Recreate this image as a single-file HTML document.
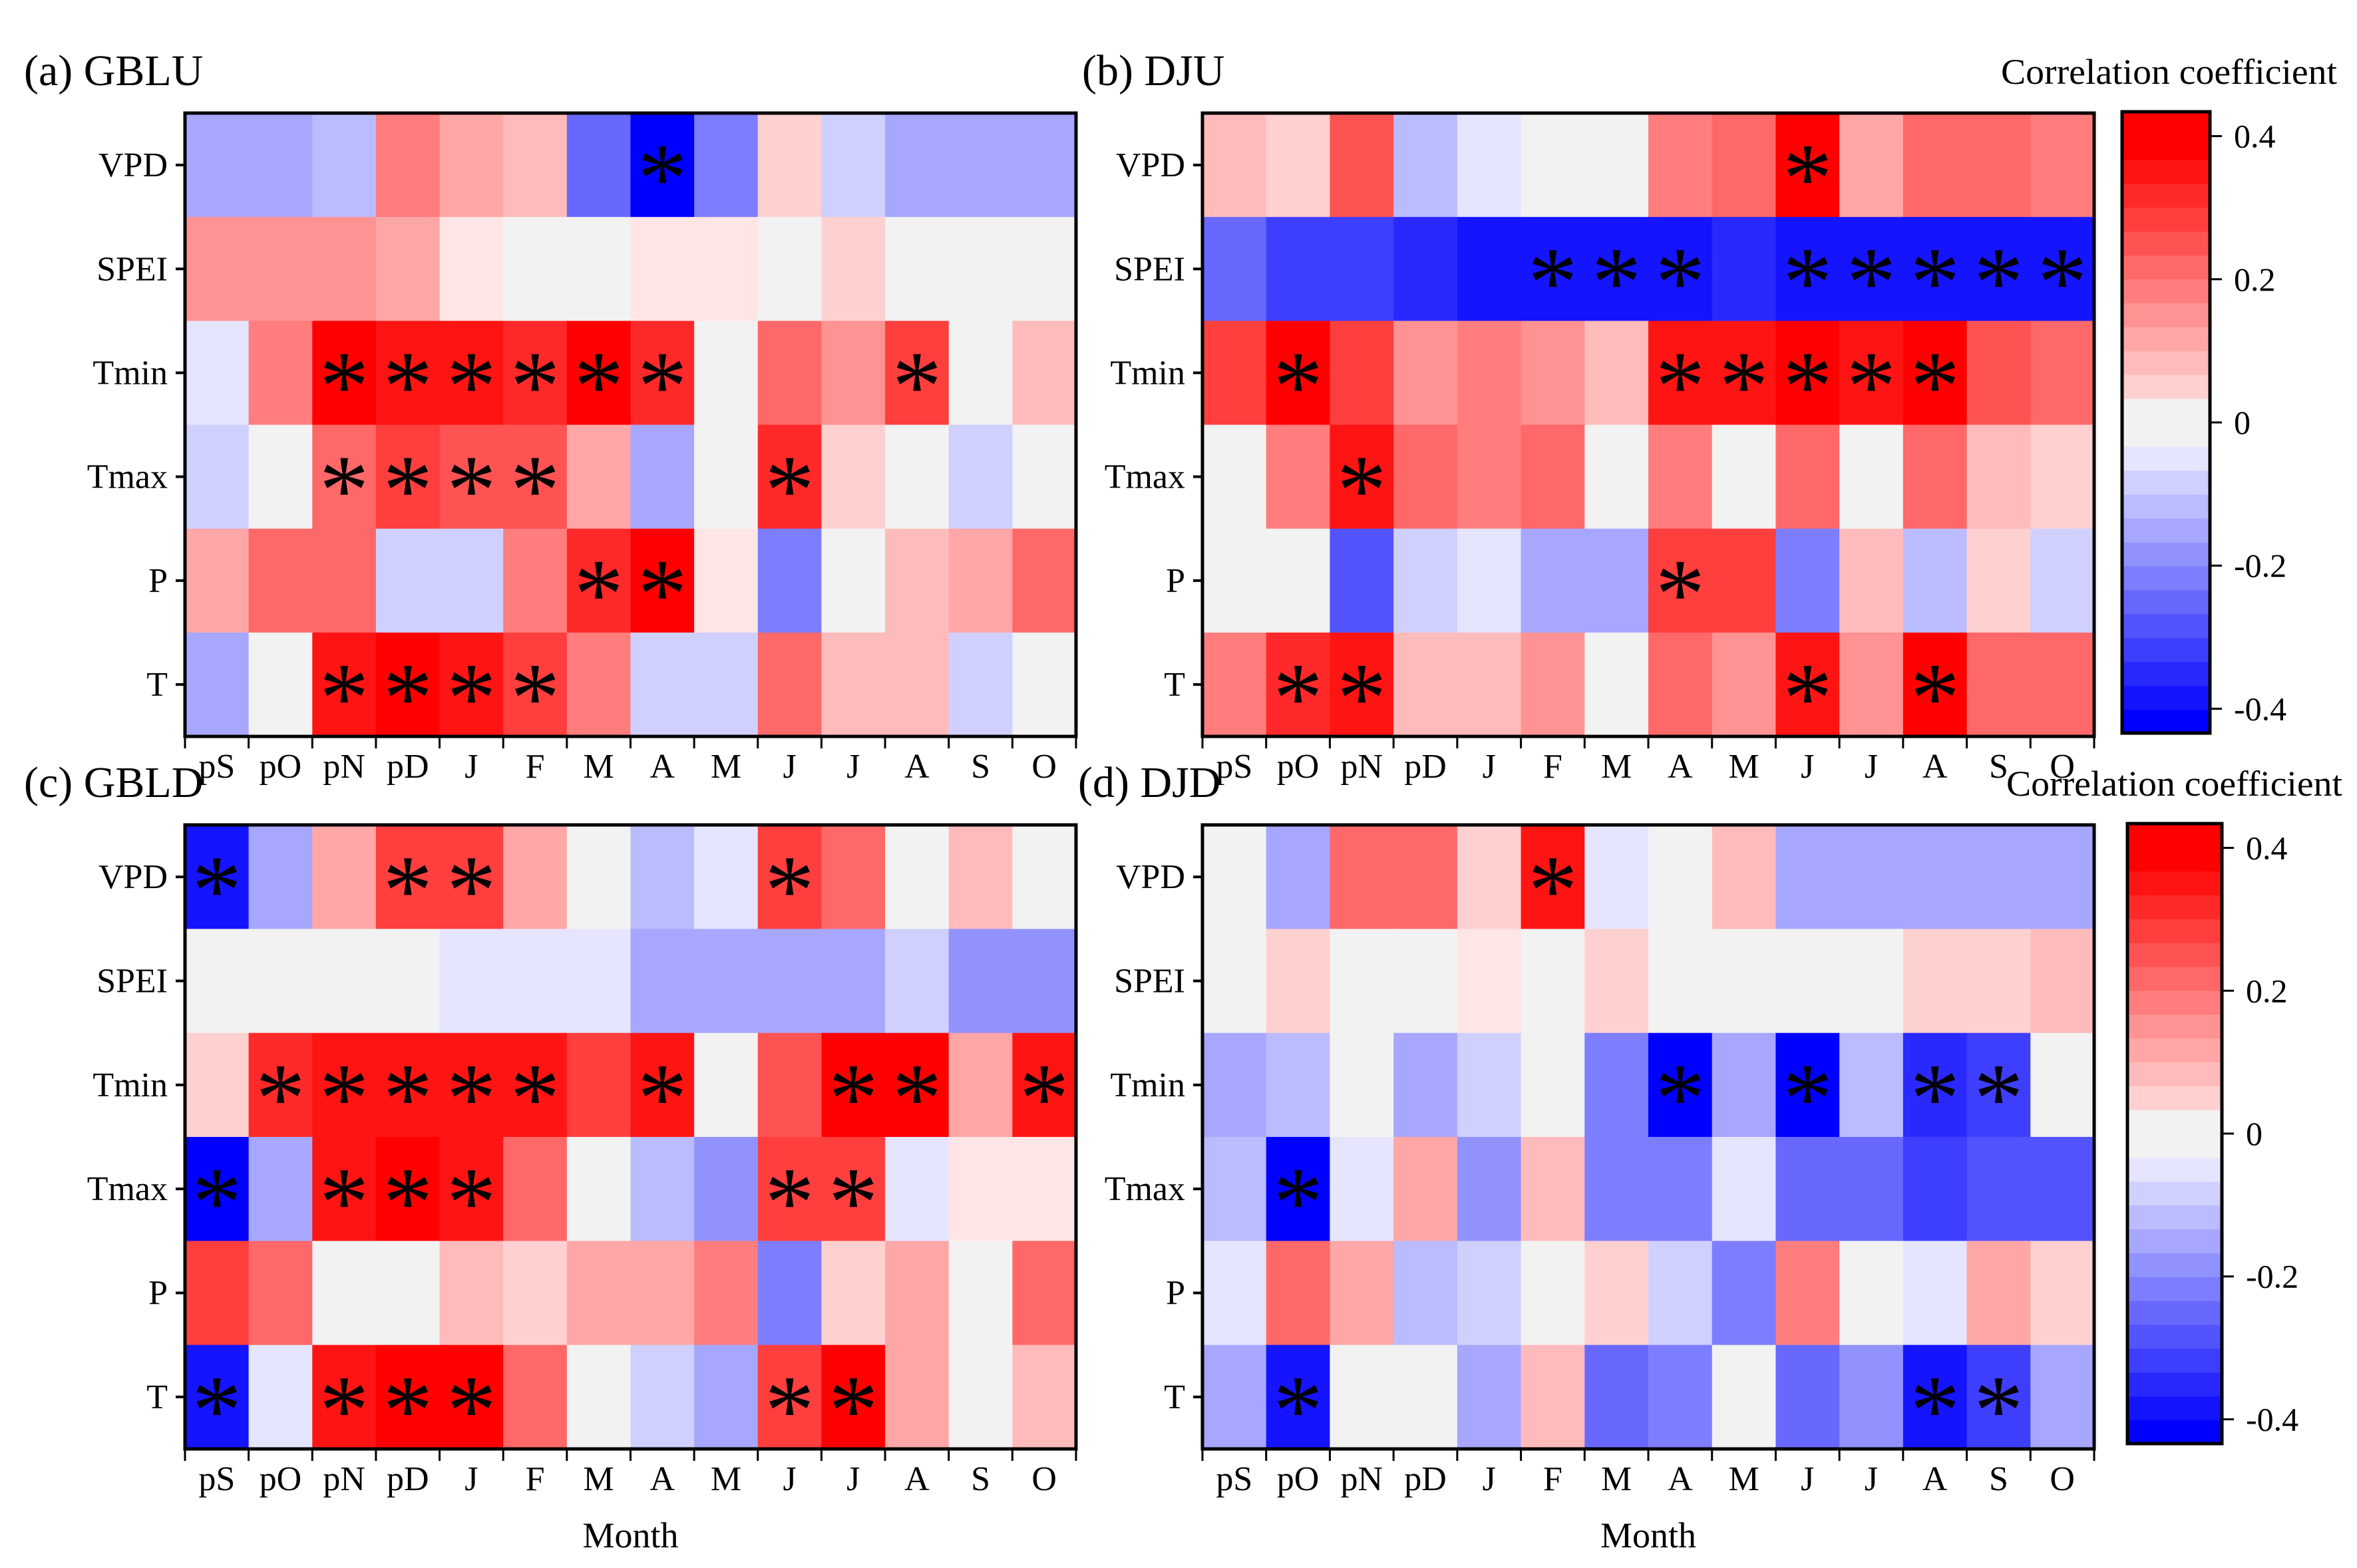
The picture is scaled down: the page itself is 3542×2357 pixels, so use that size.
<!DOCTYPE html>
<html><head><meta charset="utf-8"><style>
html,body{margin:0;padding:0;background:#fff}
svg{display:block}
text{font-family:"Liberation Serif",serif;fill:#000}
</style></head><body>
<svg id="fig" width="3542" height="2357" viewBox="0 0 3542 2357" xmlns="http://www.w3.org/2000/svg"></svg>
<script>
const months = ["pS","pO","pN","pD","J","F","M","A","M","J","J","A","S","O"];
const variables = ["VPD","SPEI","Tmin","Tmax","P","T"];
// Panel (a) GBLU
const gbluValues = [
 [-0.15,-0.15,-0.1,0.2,0.15,0.1,-0.22,-0.42,-0.2,0.08,-0.06,-0.12,-0.15,-0.15],
 [0.17,0.17,0.17,0.14,0.05,0,0,0.05,0.05,0,0.06,0,0,0],
 [-0.05,0.2,0.42,0.36,0.36,0.34,0.4,0.34,0,0.22,0.17,0.3,0,0.1],
 [-0.08,0,0.22,0.3,0.26,0.28,0.15,-0.14,0,0.33,0.06,0,-0.08,0],
 [0.14,0.25,0.22,-0.06,-0.06,0.2,0.35,0.4,0.05,-0.2,0,0.1,0.15,0.25],
 [-0.15,0,0.36,0.42,0.36,0.3,0.2,-0.08,-0.06,0.25,0.1,0.1,-0.07,0]];
const gbluSig = [[7],[],[2,3,4,5,6,7,11],[2,3,4,5,9],[6,7],[2,3,4,5]];
// Panel (b) DJU
const djuValues = [
 [0.1,0.06,0.28,-0.1,-0.03,0,0,0.2,0.22,0.4,0.12,0.25,0.25,0.2],
 [-0.25,-0.3,-0.3,-0.33,-0.36,-0.36,-0.36,-0.36,-0.33,-0.36,-0.36,-0.36,-0.36,-0.38],
 [0.3,0.4,0.3,0.17,0.2,0.17,0.1,0.36,0.36,0.4,0.38,0.4,0.27,0.25],
 [0,0.2,0.38,0.22,0.2,0.25,0,0.2,0,0.25,0,0.22,0.1,0.06],
 [0,0,-0.28,-0.08,-0.05,-0.12,-0.12,0.3,0.3,-0.2,0.1,-0.1,0.06,-0.06],
 [0.2,0.33,0.36,0.1,0.1,0.17,0,0.25,0.17,0.36,0.17,0.42,0.25,0.22]];
const djuSig = [[9],[5,6,7,9,10,11,12,13],[1,7,8,9,10,11],[2],[7],[1,2,9,11]];
// Panel (c) GBLD
const gbldValues = [
 [-0.36,-0.15,0.15,0.3,0.3,0.15,0,-0.1,-0.05,0.3,0.25,0,0.1,0],
 [0,0,0,0,-0.05,-0.05,-0.05,-0.15,-0.12,-0.12,-0.12,-0.08,-0.18,-0.18],
 [0.06,0.33,0.38,0.38,0.38,0.38,0.3,0.38,0,0.27,0.42,0.42,0.12,0.38],
 [-0.42,-0.15,0.36,0.42,0.36,0.22,0,-0.1,-0.18,0.3,0.3,-0.05,0.05,0.05],
 [0.3,0.25,0,0,0.1,0.06,0.15,0.15,0.2,-0.2,0.06,0.15,0,0.25],
 [-0.36,-0.05,0.38,0.42,0.42,0.22,0,-0.06,-0.15,0.3,0.4,0.15,0,0.1]];
const gbldSig = [[0,3,4,9],[],[1,2,3,4,5,7,10,11,13],[0,2,3,4,9,10],[],[0,2,3,4,9,10]];
// Panel (d) DJD
const djdValues = [
 [0,-0.12,0.25,0.25,0.06,0.36,-0.05,0,0.1,-0.12,-0.12,-0.15,-0.15,-0.12],
 [0,0.06,0,0,0.05,0,0.06,0,0,0,0,0.06,0.06,0.1],
 [-0.15,-0.1,0,-0.15,-0.06,0,-0.2,-0.42,-0.12,-0.42,-0.1,-0.33,-0.3,0],
 [-0.1,-0.42,-0.05,0.15,-0.18,0.1,-0.2,-0.2,-0.05,-0.22,-0.22,-0.3,-0.27,-0.27],
 [-0.05,0.25,0.15,-0.1,-0.08,0,0.08,-0.08,-0.2,0.2,0,-0.05,0.15,0.08],
 [-0.12,-0.36,0,0,-0.12,0.1,-0.25,-0.2,0,-0.25,-0.18,-0.36,-0.3,-0.15]];
const djdSig = [[5],[],[7,9,11,12],[1],[],[1,11,12]];
const cbTicks = [0.4,0.2,0,-0.2,-0.4];
const cbTickLabels = ["0.4","0.2","0","-0.2","-0.4"];

const NS="http://www.w3.org/2000/svg";
const svg=document.getElementById('fig');
function el(tag,attrs,parent){const e=document.createElementNS(NS,tag);for(const k in attrs)e.setAttribute(k,attrs[k]);(parent||svg).appendChild(e);return e;}
const VMAX=0.434, STEP=0.0334;
function color(v){
  let q=Math.round(v/STEP)*STEP; if(Math.abs(v)<STEP*0.75) q=0;
  if(q===0) return 'rgb(242,242,242)';
  let t=Math.min(1,Math.abs(q)/0.4);
  const lo=Math.round(250*(1-t));
  if(q>0){return `rgb(255,${lo},${lo})`;}
  return `rgb(${lo},${lo},255)`;
}
function panel(key,title,vals,sig,x0,y0,x1,y1,showMonth,titleX){
  const g=el('g',{});
  
  
  const cw=(x1-x0)/months.length, ch=(y1-y0)/variables.length;
  const xs=i=>x0+i*cw, ys=j=>y0+j*ch;
  vals.forEach((row,j)=>row.forEach((v,i)=>{
    const r=el('rect',{x:xs(i),y:ys(j),width:cw+0.6,height:ch+0.6,fill:color(v)},g);
    
    
  }));
  sig.forEach((cols,j)=>cols.forEach(i=>{
    const t=el('text',{x:xs(i)+cw/2,y:ys(j)+ch*0.95,'text-anchor':'middle','font-size':150},g);
    t.textContent='*';
    
    
  }));
  const fr=el('rect',{x:x0,y:y0,width:x1-x0,height:y1-y0,fill:'none',stroke:'#000','stroke-width':5},g);
  
  
  variables.forEach((n,j)=>{
    el('line',{x1:x0-14,x2:x0,y1:ys(j)+ch/2,y2:ys(j)+ch/2,stroke:'#000','stroke-width':4},g);
    const t=el('text',{x:x0-26,y:ys(j)+ch/2+17,'text-anchor':'end','font-size':52},g);
    t.textContent=n;
    
    
  });
  months.forEach((m,i)=>{
    el('line',{x1:xs(i),x2:xs(i),y1:y1,y2:y1+18,stroke:'#000','stroke-width':3},g);
    const t=el('text',{x:xs(i)+cw/2,y:y1+62,'text-anchor':'middle','font-size':52},g);
    t.textContent=m;
    
    
  });
  el('line',{x1:x1,x2:x1,y1:y1,y2:y1+18,stroke:'#000','stroke-width':3},g);
  const tt=el('text',{x:titleX,y:y0-42,'font-size':66},g);
  tt.textContent=title;
  
  
  if(showMonth){
    const mt=el('text',{x:(x0+x1)/2,y:y1+148,'text-anchor':'middle','font-size':54},g);
    mt.textContent='Month';
    
    
  }
}
function colorbar(key,x0,y0,x1,y1,titleRight){
  const g=el('g',{});
  
  
  const sy=v=>y0+(VMAX-v)/(2*VMAX)*(y1-y0);
  for(let v=-VMAX; v<VMAX; v+=STEP){
    el('rect',{x:x0,y:sy(v+STEP),width:x1-x0,height:sy(v)-sy(v+STEP)+0.8,fill:color(v+STEP/2)},g);
  }
  el('rect',{x:x0,y:y0,width:x1-x0,height:y1-y0,fill:'none',stroke:'#000','stroke-width':5},g);
  cbTicks.forEach((v,k)=>{
    el('line',{x1:x1,x2:x1+18,y1:sy(v),y2:sy(v),stroke:'#000','stroke-width':3},g);
    const t=el('text',{x:x1+36,y:sy(v)+17,'font-size':50},g);
    t.textContent=cbTickLabels[k];
    
    
  });
  const t=el('text',{x:titleRight,y:y0-42,'text-anchor':'end','font-size':54,textLength:505,lengthAdjust:'spacingAndGlyphs'},g);
  t.textContent='Correlation coefficient';
  
  
}
panel('gblu','(a) GBLU',gbluValues,gbluSig,278,170,1617,1107,false,36);
panel('dju','(b) DJU',djuValues,djuSig,1807,170,3147,1107,false,1626);
panel('gbld','(c) GBLD',gbldValues,gbldSig,278,1240,1617,2178,true,36);
panel('djd','(d) DJD',djdValues,djdSig,1807,1240,3147,2178,true,1620);
colorbar('colorbar-top',3189,168,3321,1102,3512);
colorbar('colorbar-bottom',3197,1238,3339,2170,3520);
</script>
</body></html>
